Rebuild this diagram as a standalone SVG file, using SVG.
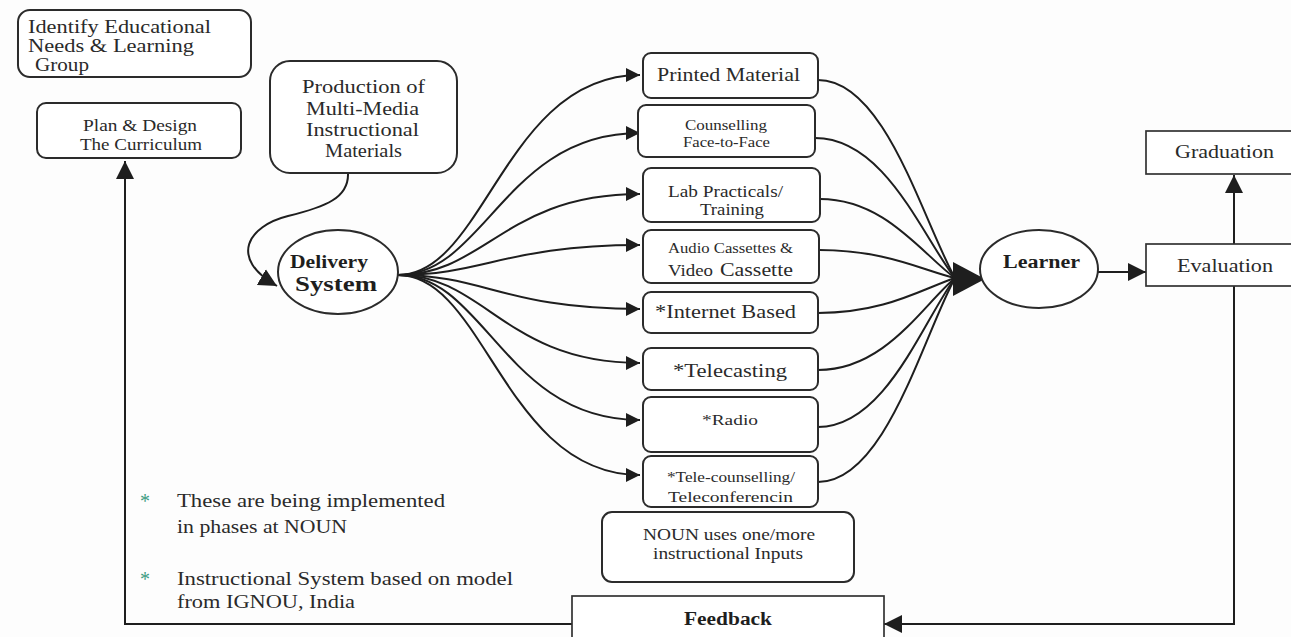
<svg xmlns="http://www.w3.org/2000/svg" width="1291" height="637" viewBox="0 0 1291 637">
<style>
.box{fill:#fff;stroke:#2b2b2b;stroke-width:2}
.sq{fill:#fff;stroke:#333;stroke-width:1.7}
.t{font-family:"Liberation Serif","Times New Roman",serif;fill:#2a2a2a}
.b{font-weight:bold;fill:#1e1e1e}
.c{stroke:#1e1e1e;stroke-width:2;fill:none}
.ast{fill:#3e9c82}
</style>
<defs>
<marker id="ah" viewBox="0 0 10 10" refX="10" refY="5" markerUnits="userSpaceOnUse" markerWidth="17" markerHeight="14" orient="auto"><path d="M0,0 L10,5 L0,10 z" fill="#1e1e1e"/></marker>
<marker id="ahL" viewBox="0 0 10 10" refX="10" refY="5" markerUnits="userSpaceOnUse" markerWidth="18" markerHeight="20" orient="auto"><path d="M0,0 L10,5 L0,10 z" fill="#1e1e1e"/></marker>
</defs>
<rect width="1291" height="637" fill="#fdfdfd"/>

<g id="connectors">
<path class="c" d="M348,173 C349,198 325,207 288,216 C248,226 228,258 277,286" marker-end="url(#ahL)"/>
<path class="c" d="M398,275 C485,275 505,75 640,75" marker-end="url(#ah)"/>
<path class="c" d="M398,275 C485,275 505,133 640,133" marker-end="url(#ah)"/>
<path class="c" d="M398,275 C485,275 505,194 640,194" marker-end="url(#ah)"/>
<path class="c" d="M398,275 C485,275 505,245 640,245" marker-end="url(#ah)"/>
<path class="c" d="M398,275 C485,275 505,309 640,309" marker-end="url(#ah)"/>
<path class="c" d="M398,275 C485,275 505,363 640,363" marker-end="url(#ah)"/>
<path class="c" d="M398,275 C485,275 505,420 640,420" marker-end="url(#ah)"/>
<path class="c" d="M398,275 C485,275 505,475 640,475" marker-end="url(#ah)"/>
<path class="c" d="M818,80 C885,80 922,219 955,278"/>
<path class="c" d="M815,138 C885,138 922,236 955,278"/>
<path class="c" d="M820,199 C885,199 922,254 955,278"/>
<path class="c" d="M819,250 C885,250 922,270 955,278"/>
<path class="c" d="M818,313 C885,313 922,289 955,278"/>
<path class="c" d="M818,370 C885,370 922,306 955,278"/>
<path class="c" d="M818,427 C885,427 922,323 955,278"/>
<path class="c" d="M818,482 C885,482 922,339 955,278"/>
<polygon points="953,262 985,279 953,296" fill="#1e1e1e"/>
<path class="c" d="M1098,272 L1146,272" marker-end="url(#ahL)"/>
<path class="c" d="M1234,244 L1234,175" marker-end="url(#ahL)"/>
<path class="c" d="M1234,286 L1234,624 L884,624" marker-end="url(#ahL)"/>
<path class="c" d="M572,624 L125,624 L125,161" marker-end="url(#ahL)"/>
</g>

<g id="identify">
<rect class="box" x="18" y="10" width="233" height="67" rx="12"/>
<text class="t" font-size="19" x="28" y="33" textLength="183" lengthAdjust="spacingAndGlyphs">Identify Educational</text>
<text class="t" font-size="19" x="28" y="52" textLength="166" lengthAdjust="spacingAndGlyphs">Needs &amp; Learning</text>
<text class="t" font-size="19" x="35" y="71" textLength="54" lengthAdjust="spacingAndGlyphs">Group</text>
</g>

<g id="plan">
<rect class="box" x="37" y="103" width="204" height="55" rx="9"/>
<text class="t" font-size="17" x="83" y="131" textLength="114" lengthAdjust="spacingAndGlyphs" fill="#3a3a3a">Plan &amp; Design</text>
<text class="t" font-size="17" x="80" y="150" textLength="122" lengthAdjust="spacingAndGlyphs" fill="#3a3a3a">The Curriculum</text>
</g>

<g id="production">
<rect class="box" x="270" y="61" width="187" height="112" rx="20"/>
<text class="t" font-size="19" x="302" y="93" textLength="123" lengthAdjust="spacingAndGlyphs">Production of</text>
<text class="t" font-size="19" x="306" y="115" textLength="113" lengthAdjust="spacingAndGlyphs">Multi-Media</text>
<text class="t" font-size="19" x="306" y="136" textLength="113" lengthAdjust="spacingAndGlyphs">Instructional</text>
<text class="t" font-size="19" x="325" y="157" textLength="77" lengthAdjust="spacingAndGlyphs">Materials</text>
</g>

<g id="delivery">
<ellipse class="box" cx="338" cy="272" rx="60" ry="42"/>
<text class="t b" font-size="18" x="290" y="268" textLength="78" lengthAdjust="spacingAndGlyphs">Delivery</text>
<text class="t b" font-size="22" x="295" y="291" textLength="82" lengthAdjust="spacingAndGlyphs">System</text>
</g>

<g id="printed">
<rect class="box" x="643" y="53" width="175" height="45" rx="8"/>
<text class="t" font-size="18" x="657" y="81" textLength="143" lengthAdjust="spacingAndGlyphs">Printed Material</text>
</g>

<g id="counselling">
<rect class="box" x="638" y="105" width="177" height="52" rx="8"/>
<text class="t" font-size="14" x="685" y="130" textLength="82" lengthAdjust="spacingAndGlyphs" fill="#3a3a3a">Counselling</text>
<text class="t" font-size="14" x="683" y="147" textLength="87" lengthAdjust="spacingAndGlyphs" fill="#3a3a3a">Face-to-Face</text>
</g>

<g id="lab">
<rect class="box" x="643" y="168" width="177" height="54" rx="8"/>
<text class="t" font-size="17" x="668" y="197" textLength="115" lengthAdjust="spacingAndGlyphs">Lab Practicals/</text>
<text class="t" font-size="17" x="700" y="215" textLength="64" lengthAdjust="spacingAndGlyphs">Training</text>
</g>

<g id="audio">
<rect class="box" x="643" y="230" width="176" height="53" rx="8"/>
<text class="t" font-size="14" x="668" y="253" textLength="125" lengthAdjust="spacingAndGlyphs">Audio Cassettes &amp;</text>
<text class="t" font-size="16" x="668" y="276" textLength="45" lengthAdjust="spacingAndGlyphs">Video</text>
<text class="t" font-size="19" x="720" y="276" textLength="73" lengthAdjust="spacingAndGlyphs">Cassette</text>
</g>

<g id="internet">
<rect class="box" x="643" y="292" width="175" height="41" rx="8"/>
<text class="t" font-size="18" x="655" y="318" textLength="141" lengthAdjust="spacingAndGlyphs">*Internet Based</text>
</g>

<g id="telecasting">
<rect class="box" x="643" y="348" width="175" height="42" rx="8"/>
<text class="t" font-size="18" x="673" y="377" textLength="114" lengthAdjust="spacingAndGlyphs">*Telecasting</text>
</g>

<g id="radio">
<rect class="box" x="643" y="397" width="175" height="55" rx="8"/>
<text class="t" font-size="15" x="702" y="425" textLength="56" lengthAdjust="spacingAndGlyphs">*Radio</text>
</g>

<g id="telecounselling">
<rect class="box" x="643" y="456" width="175" height="51" rx="8"/>
<text class="t" font-size="14" x="667" y="482" textLength="128" lengthAdjust="spacingAndGlyphs">*Tele-counselling/</text>
<text class="t" font-size="15" x="668" y="502" textLength="125" lengthAdjust="spacingAndGlyphs">Teleconferencin</text>
</g>

<g id="noun">
<rect class="box" x="602" y="512" width="252" height="70" rx="10"/>
<text class="t" font-size="17" x="643" y="540" textLength="172" lengthAdjust="spacingAndGlyphs" fill="#3a3a3a">NOUN uses one/more</text>
<text class="t" font-size="17" x="653" y="559" textLength="150" lengthAdjust="spacingAndGlyphs" fill="#3a3a3a">instructional Inputs</text>
</g>

<g id="learner">
<ellipse class="box" cx="1039" cy="269" rx="59" ry="39"/>
<text class="t b" font-size="18" x="1003" y="268" textLength="77" lengthAdjust="spacingAndGlyphs">Learner</text>
</g>

<g id="graduation">
<rect class="sq" x="1146" y="131" width="160" height="43"/>
<text class="t" font-size="18" x="1175" y="158" textLength="99" lengthAdjust="spacingAndGlyphs" fill="#3a3a3a">Graduation</text>
</g>

<g id="evaluation">
<rect class="sq" x="1146" y="244" width="160" height="42"/>
<text class="t" font-size="18" x="1177" y="272" textLength="96" lengthAdjust="spacingAndGlyphs" fill="#3a3a3a">Evaluation</text>
</g>

<g id="feedback">
<rect class="sq" x="572" y="596" width="312" height="60"/>
<text class="t b" font-size="18" x="684" y="625" textLength="88" lengthAdjust="spacingAndGlyphs">Feedback</text>
</g>

<g id="legend">
<text class="t ast" font-size="20" x="140" y="508">*</text>
<text class="t" font-size="19" x="177" y="507" textLength="268" lengthAdjust="spacingAndGlyphs">These are being implemented</text>
<text class="t" font-size="19" x="177" y="533" textLength="170" lengthAdjust="spacingAndGlyphs">in phases at NOUN</text>
<text class="t ast" font-size="20" x="140" y="586">*</text>
<text class="t" font-size="19" x="177" y="585" textLength="336" lengthAdjust="spacingAndGlyphs">Instructional System based on model</text>
<text class="t" font-size="19" x="177" y="608" textLength="178" lengthAdjust="spacingAndGlyphs">from IGNOU, India</text>
</g>
</svg>
